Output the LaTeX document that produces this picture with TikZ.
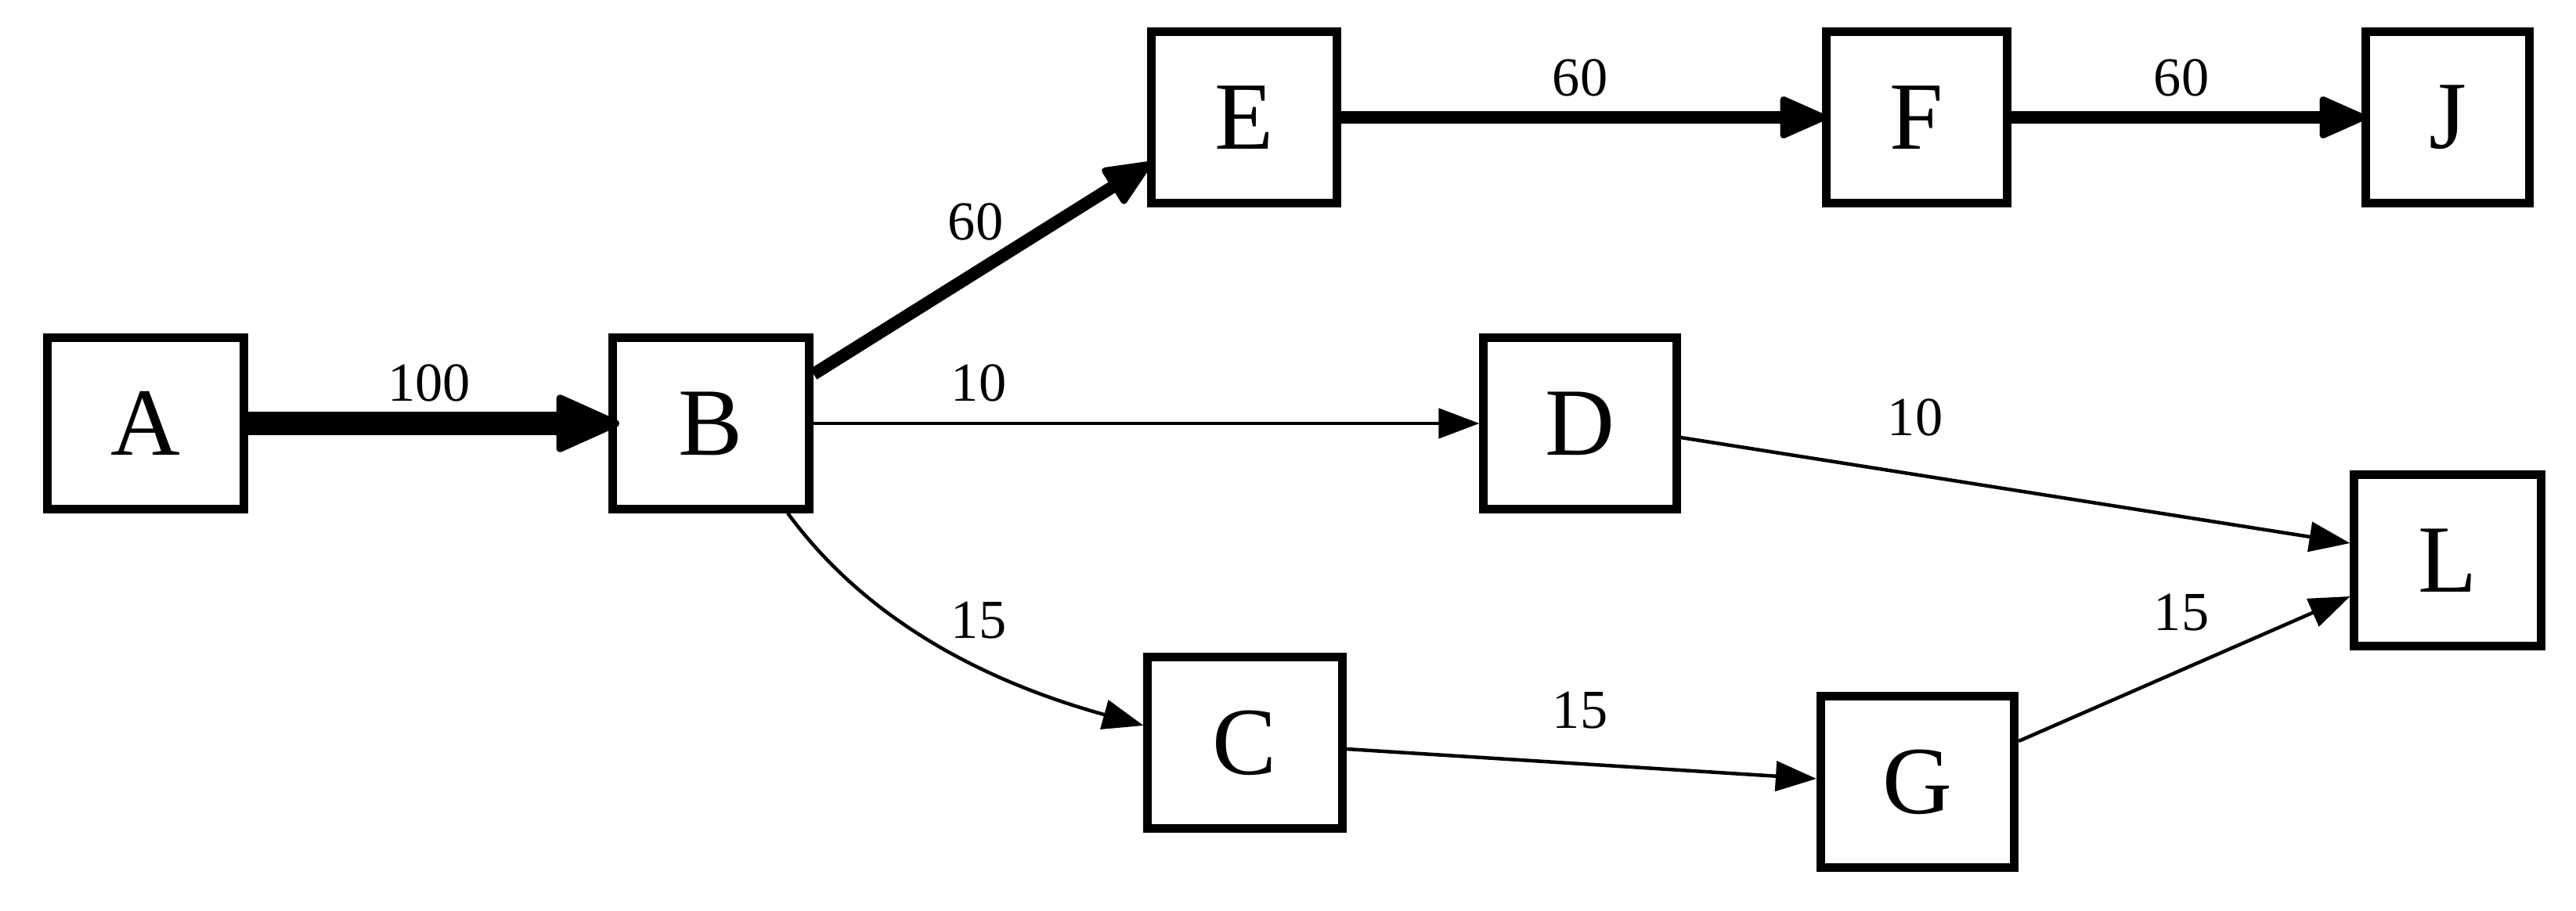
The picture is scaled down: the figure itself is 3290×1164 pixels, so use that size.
\documentclass[tikz,border=0pt]{standalone}
\usepackage{fontspec}
\setmainfont{Liberation Serif}
\usetikzlibrary{arrows.meta,calc}
\begin{document}
\begin{tikzpicture}[x=0.01cm,y=-0.01cm,
  box/.style={draw, line width=0.11cm, minimum height=2.18cm, inner sep=0pt, font=\fontsize{35}{40}\selectfont},
  lbl/.style={inner sep=0pt, font=\fontsize{20}{24}\selectfont},
  edgethin/.style={line width=0.045cm, -{Triangle[length=0.52cm,width=0.38cm]}},
  edgebold/.style={line width=0.16cm, -{Triangle[round, line width=0.08cm, length=0.66cm,width=0.56cm]}, shorten >=-0.06cm},
  edgeheavy/.style={line width=0.29cm, -{Triangle[round, line width=0.1cm, length=0.88cm,width=0.76cm]}, shorten >=-0.14cm}]
\fill[white] (0,0) rectangle (3290,1164);
\useasboundingbox (0,0) rectangle (3290,1164);
\node[box, minimum width=2.50cm] (A) at (186,541) {A};
\node[box, minimum width=2.51cm] (B) at (908,541) {B};
\node[box, minimum width=2.36cm] (E) at (1589,150) {E};
\node[box, minimum width=2.30cm] (F) at (2448,150) {F};
\node[box, minimum width=2.08cm] (J) at (3126,150) {J};
\node[box, minimum width=2.46cm] (D) at (2018,541) {D};
\node[box, minimum width=2.38cm] (L) at (3126,716) {L};
\node[box, minimum width=2.48cm] (C) at (1590,949) {C};
\node[box, minimum width=2.47cm] (G) at (2449,999) {G};
\draw[edgeheavy] (A) -- (B);
\draw[edgebold] ($(B.east)+(0,-63)$) -- ($(E.west)+(0,61)$);
\draw[edgebold] (E) -- (F);
\draw[edgebold] (F) -- (J);
\draw[edgethin] (B) -- (D);
\draw[edgethin] ($(B.south)+(98,0)$) .. controls +(110,150) and +(-180,-50) .. ($(C.west)+(0,-22)$);
\draw[edgethin] ($(C.east)+(0,8)$) -- ($(G.west)+(0,-4)$);
\draw[edgethin] ($(D.east)+(0,18)$) -- ($(L.west)+(0,-22)$);
\draw[edgethin] ($(G.east)+(0,-52)$) -- ($(L.west)+(0,46)$);
\node[lbl] (lAB) at (548,489) {100};
\node[lbl] (lBE) at (1246,283) {60};
\node[lbl] (lBD) at (1250,489) {10};
\node[lbl] (lBC) at (1250,793) {15};
\node[lbl] (lEF) at (2018,99) {60};
\node[lbl] (lFJ) at (2786,99) {60};
\node[lbl] (lDL) at (2446,533) {10};
\node[lbl] (lCG) at (2018,908) {15};
\node[lbl] (lGL) at (2786,783) {15};
\end{tikzpicture}
\end{document}
